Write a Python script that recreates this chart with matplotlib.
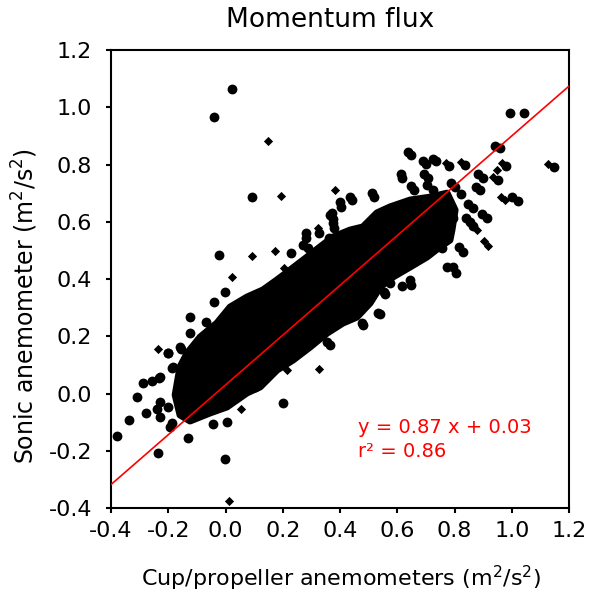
import numpy as np
import matplotlib
matplotlib.use("Agg")
import matplotlib.pyplot as plt

# outline of the saturated point cloud
core_x = [-0.176, -0.159, -0.134, -0.089, -0.030, 0.016, 0.075, 0.131, 0.180, 0.225,
          0.285, 0.330, 0.376, 0.435, 0.480, 0.529, 0.575, 0.645, 0.714, 0.774,
          0.802, 0.791, 0.784, 0.749, 0.704, 0.645, 0.585, 0.540, 0.505, 0.459,
          0.410, 0.355, 0.295, 0.236, 0.180, 0.121, 0.075, 0.005, -0.054, -0.124,
          -0.159]
core_y = [-0.005, 0.093, 0.141, 0.197, 0.246, 0.302, 0.337, 0.362, 0.397, 0.431,
          0.477, 0.512, 0.547, 0.571, 0.582, 0.631, 0.652, 0.676, 0.686, 0.700,
          0.641, 0.571, 0.536, 0.512, 0.477, 0.442, 0.407, 0.372, 0.316, 0.267,
          0.246, 0.211, 0.162, 0.117, 0.082, 0.023, 0.002, -0.047, -0.068, -0.096,
          -0.075]

# individual points outside the dense core
big_x = [0.022, -0.039, 0.094, -0.023, 0.228, 0.280, 0.289, 0.362, 0.365,
         0.994, 1.044, 1.149, 0.958, 0.979, 0.952, 0.898, 0.890, 1.020, 0.865,
         0.913, 0.853, 0.829, 0.806, 0.648, 0.701, 0.737, 0.779, 0.836, 0.618,
         0.707, 0.660, 0.803, 0.443, 0.404, 0.376, 0.379, 0.328, 0.281, 0.519,
         0.793, 0.755, 0.648, 0.639, 0.691, 0.726, 0.941, 0.612, 0.694, 0.788,
         0.881, 0.875, 0.822, 0.848, 1.002, 0.897, 0.839, 0.866, 0.816, 0.794,
         0.747, 0.647, 0.726, 0.648, 0.645, 0.554, 0.374, 0.400, 0.435, 0.511,
         0.656, 0.534, 0.478, 0.540, 0.481, 0.365, 0.556, 0.618, 0.200, 0.354,
         -0.002, -0.039, -0.124, -0.068, -0.124, -0.159, -0.202, -0.182, -0.231,
         -0.287, -0.310, -0.279, -0.336, -0.229, -0.194, -0.229, -0.202, -0.380,
         -0.130, -0.235, -0.045, 0.004, -0.002, -0.200, -0.157, -0.258, -0.229,
         -0.188, -0.188, -0.241, 0.103, 0.371, 0.272, 0.703, 0.773, 0.604, 0.575]
big_y = [1.064, 0.967, 0.685, 0.484, 0.492, 0.560, 0.507, 0.543, 0.624,
         0.979, 0.981, 0.790, 0.856, 0.796, 0.746, 0.752, 0.710, 0.672, 0.648,
         0.612, 0.600, 0.493, 0.421, 0.833, 0.803, 0.811, 0.794, 0.797, 0.752,
         0.752, 0.710, 0.722, 0.675, 0.651, 0.611, 0.577, 0.561, 0.543, 0.686,
         0.612, 0.508, 0.379, 0.843, 0.813, 0.819, 0.865, 0.767, 0.767, 0.734,
         0.767, 0.722, 0.697, 0.662, 0.685, 0.626, 0.614, 0.585, 0.511, 0.441,
         0.522, 0.725, 0.711, 0.641, 0.397, 0.356, 0.595, 0.670, 0.688, 0.699,
         0.571, 0.282, 0.247, 0.277, 0.241, 0.170, 0.346, 0.376, -0.032, 0.181,
         0.354, 0.321, 0.268, 0.251, 0.210, 0.164, 0.140, 0.094, 0.053,
         0.036, -0.011, -0.069, -0.093, -0.081, -0.116, -0.029, -0.046, -0.148,
         -0.157, -0.209, -0.108, -0.098, -0.230, 0.143, 0.154, 0.042, 0.059,
         0.088, -0.104, -0.053, 0.023, 0.630, 0.519, 0.728, 0.443, 0.437, 0.385]

small_x = [0.147, 0.194, 0.094, 0.173, 0.022, 0.205, 0.324, 0.976, 0.877,
           0.916, 0.383, 0.965, 0.947, 0.936, 0.961, 1.128, 0.903, 0.769,
           0.823, -0.237, 0.054, 0.012, 0.326, 0.214]
small_y = [0.883, 0.690, 0.480, 0.499, 0.406, 0.437, 0.577, 0.677, 0.571,
           0.516, 0.710, 0.804, 0.781, 0.755, 0.688, 0.802, 0.533, 0.806,
           0.808, 0.154, -0.055, -0.375, 0.084, 0.082]

slope = 0.87
intercept = 0.03
r2 = 0.86

x_ticks = [-0.4, -0.2, 0.0, 0.2, 0.4, 0.6, 0.8, 1.0, 1.2]
y_ticks = [-0.4, -0.2, 0.0, 0.2, 0.4, 0.6, 0.8, 1.0, 1.2]

plt.rcParams["font.family"] = "DejaVu Sans"

fig = plt.figure(figsize=(5.89, 5.99), dpi=100)
ax = fig.add_axes([0.1885, 0.1519, 0.7776, 0.7646])

ax.fill(core_x, core_y, color="black", edgecolor="black", linewidth=5,
        joinstyle="round", zorder=2)
ax.scatter(big_x, big_y, s=50, c="black", marker="o", linewidths=0, zorder=3)
ax.scatter(small_x, small_y, s=22, c="black", marker="D", linewidths=0, zorder=3)

fit_x = np.array([-0.4, 1.2])
ax.plot(fit_x, slope * fit_x + intercept, color="red", linewidth=1.2, zorder=4)

ax.text(0.463, -0.117, "y = %.2f x + %.2f" % (slope, intercept), color="red",
        fontsize=14, va="center", ha="left")
ax.text(0.463, -0.204, "r² = %.2f" % r2, color="red", fontsize=14,
        va="center", ha="left")

ax.set_xlim(-0.4, 1.2)
ax.set_ylim(-0.4, 1.2)
ax.set_xticks(x_ticks)
ax.set_yticks(y_ticks)
ax.set_xticklabels(["%.1f" % v for v in x_ticks])
ax.set_yticklabels(["%.1f" % v for v in y_ticks])
ax.tick_params(direction="out", length=3.6, width=1.5, labelsize=16,
               top=False, right=False)
ax.tick_params(axis="x", pad=6)
ax.tick_params(axis="y", pad=10)
for sp in ax.spines.values():
    sp.set_linewidth(1.5)

fig.text(330 / 589, 1 - 20 / 599, "Momentum flux", fontsize=19,
         ha="center", va="center")
fig.text(341 / 589, 1 - 578 / 599, "Cup/propeller anemometers (m$^2$/s$^2$)",
         fontsize=16, ha="center", va="center")
fig.text(25 / 589, 1 - 306 / 599, "Sonic anemometer (m$^2$/s$^2$)",
         fontsize=17, ha="center", va="center", rotation=90)

fig.savefig("out.png", dpi=100)
